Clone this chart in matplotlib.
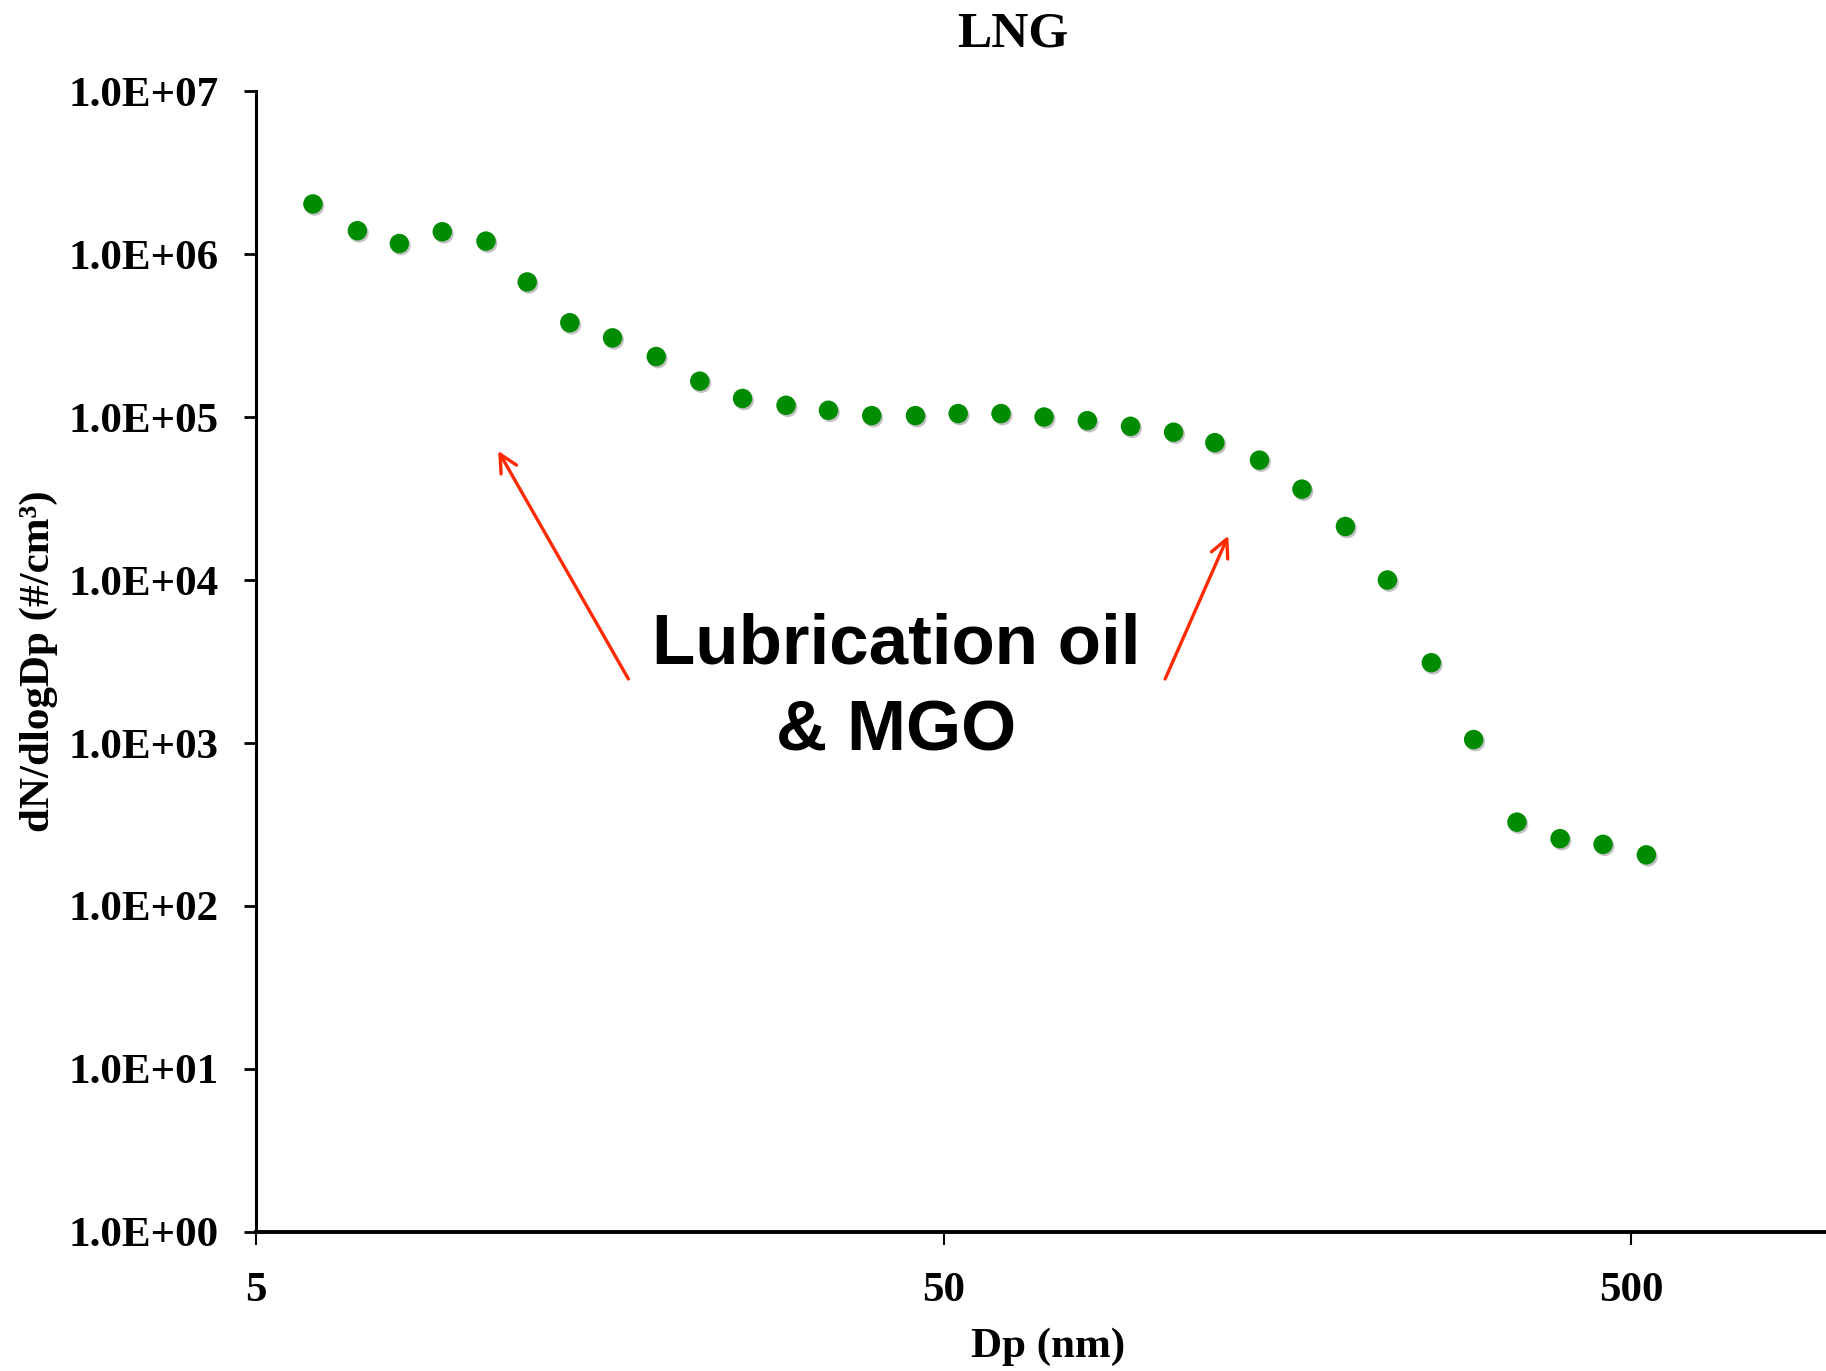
import matplotlib
matplotlib.use("Agg")
import matplotlib.pyplot as plt
import matplotlib.patheffects as pe

# Size distribution, LNG
dp_nm = [6.05, 7.02, 8.08, 9.33, 10.8, 12.4, 14.3, 16.5, 19.1, 22.1, 25.5,
         29.5, 34.0, 39.3, 45.5, 52.5, 60.6, 70.0, 80.9, 93.5, 108, 124,
         144, 166, 192, 221, 256, 295, 341, 394, 455, 526]
dndlogdp = [2.03e6, 1.39e6, 1.16e6, 1.37e6, 1.20e6, 6.74e5, 3.79e5, 3.06e5,
            2.35e5, 1.66e5, 1.30e5, 1.18e5, 1.10e5, 1.02e5, 1.02e5, 1.05e5,
            1.05e5, 1.00e5, 9.5e4, 8.77e4, 8.07e4, 6.96e4, 5.44e4, 3.61e4,
            2.13e4, 1.0e4, 3.11e3, 1.05e3, 327, 259, 239, 206]

x_ticks = [5, 50, 500]
x_tick_labels = ["5", "50", "500"]
y_ticks = [1e0, 1e1, 1e2, 1e3, 1e4, 1e5, 1e6, 1e7]
y_tick_labels = ["1.0E+00", "1.0E+01", "1.0E+02", "1.0E+03",
                 "1.0E+04", "1.0E+05", "1.0E+06", "1.0E+07"]

# annotation: text position and arrow (tail -> head) in data units
note_text = "Lubrication oil\n& MGO"
note_xy = (42.7, 2150)
arrows = [((17.4, 2470), (11.25, 6.2e4)),
          ((105, 2470), (129.7, 1.87e4))]

plt.rcParams["font.family"] = "Liberation Serif"
plt.rcParams["font.weight"] = "bold"

fig = plt.figure(figsize=(18.26, 13.71), dpi=100)
ax = fig.add_axes([0.1402, 0.1014, 0.8598, 0.8322])

ax.plot(dp_nm, dndlogdp, "o", color="#008c00", markersize=14, markeredgewidth=0,
        path_effects=[pe.SimplePatchShadow(offset=(1.2, -1.5), shadow_rgbFace="#777777", alpha=0.45),
                      pe.Normal()])

ax.set_xscale("log")
ax.set_yscale("log")
ax.set_xlim(5, 960)
ax.set_ylim(1, 1e7)
ax.set_xticks(x_ticks)
ax.set_xticklabels(x_tick_labels)
ax.set_yticks(y_ticks)
ax.set_yticklabels(y_tick_labels)
ax.minorticks_off()

for s in ["top", "right"]:
    ax.spines[s].set_visible(False)
ax.spines["left"].set_linewidth(2.2)
ax.spines["bottom"].set_linewidth(2.8)
ax.tick_params(axis="y", direction="out", length=9, width=2.0, pad=18, labelsize=31)
ax.tick_params(axis="x", direction="out", length=9, width=1.5, pad=20, labelsize=31)

ax.set_xlabel("Dp (nm)", fontsize=31, fontweight="bold")
ax.xaxis.set_label_coords(0.5045, -0.084)
ax.set_ylabel("dN/dlogDp (#/cm³)", fontsize=31, fontweight="bold")
ax.yaxis.set_label_coords(-0.126, 0.5)

fig.text(0.5548, 0.9745, "LNG", ha="center", va="center", fontsize=37, fontweight="bold")

ax.text(note_xy[0], note_xy[1], note_text, ha="center", va="center",
        fontsize=51, fontweight="bold", family="Liberation Sans", linespacing=1.42)
for tail, head in arrows:
    ax.annotate("", xy=head, xytext=tail,
                arrowprops=dict(arrowstyle="->", color="#ff2a00", lw=2.4,
                                mutation_scale=32, shrinkA=0, shrinkB=0))

fig.savefig("out.png", dpi=100)
